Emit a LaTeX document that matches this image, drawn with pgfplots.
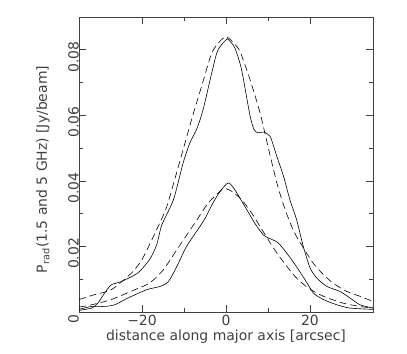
\documentclass[border=0pt]{standalone}
\usepackage{pgfplots}
\pgfplotsset{compat=1.18}
\usepackage{fontspec}
\setmainfont{DejaVu Sans}
\begin{document}
\fontsize{14}{16}\selectfont
\begin{tikzpicture}
\begin{axis}[
  scale only axis, width=294bp, height=295bp,
  xmin=-35, xmax=35, ymin=0, ymax=0.09,
  scaled y ticks=false, scaled x ticks=false,
  xtick={-20,0,20}, xticklabels={−20,0,20},
  ytick={0,0.02,0.04,0.06,0.08}, yticklabels={0,0.02,0.04,0.06,0.08},
  minor x tick num=1, minor y tick num=1,
  tick align=inside,
  major tick length=7bp, minor tick length=4bp,
  axis line style={black!75, line width=0.6pt},
  every tick/.style={black!75, line width=0.6pt},
  tick label style={font=\fontsize{14}{16}\selectfont, text=black!75},
  label style={font=\fontsize{14}{16}\selectfont, text=black!75},
  yticklabel style={rotate=90, anchor=south, inner sep=0pt, xshift=-7bp},
  xticklabel style={anchor=north, inner sep=0pt, yshift=-3bp},
  xlabel={distance along major axis [arcsec]},
  xlabel style={at={(axis description cs:0.5,0)}, anchor=north, inner sep=0pt, yshift=-18bp},
  ylabel={P\textsubscript{rad}(1.5 and 5 GHz) [Jy/beam]},
  ylabel style={at={(axis description cs:-0.122,0.483)}, anchor=center, inner sep=0pt},
  clip=true,
]
% upper solid (1.5 GHz profile)
\addplot[black, line width=0.6pt, smooth, tension=0.4] coordinates {
(-35,0.0005) (-32,0.0012) (-30.5,0.0027) (-28.9,0.0058) (-27.3,0.0083) (-24.9,0.0093)
(-21,0.0119) (-18.2,0.016) (-16.5,0.0205) (-15.3,0.0265) (-12.5,0.0343) (-10.2,0.0455)
(-8.6,0.0516) (-7,0.0557) (-5.4,0.0620) (-2.2,0.0790) (0,0.0830) (0.5,0.0832)
(2.1,0.0806) (3.7,0.0740) (5.7,0.0600) (6.7,0.0556) (7.6,0.0547) (8.9,0.0549)
(10.5,0.0536) (12.1,0.0475) (13.7,0.0414) (15.2,0.0343) (16.8,0.0282) (18.4,0.0200)
(20,0.0135) (21.6,0.0104) (24,0.0078) (27.1,0.0063) (29.5,0.0043) (31.9,0.0022) (35,0.0012)
};
% upper dashed (fit)
\addplot[black, line width=0.6pt, dash pattern=on 7bp off 4bp, smooth, tension=0.4] coordinates {
(-35,0.0038) (-31.3,0.0053) (-27.3,0.0068) (-22.5,0.0119) (-20,0.0160) (-16.9,0.0241)
(-14.1,0.0322) (-10.2,0.0496) (-8.2,0.0587) (-5.8,0.0689) (-3.4,0.0790) (-1.5,0.0825) (0,0.0840)
(1.5,0.0825) (3.3,0.0796) (5.7,0.0710) (8.1,0.0608) (10,0.0505) (12.1,0.0394) (14,0.0315) (16,0.0250)
(17.5,0.0215) (20.7,0.0150) (23.2,0.0114) (25.5,0.0088) (28.7,0.0063) (31.9,0.0048) (35,0.0032)
};
% lower solid (5 GHz profile)
\addplot[black, line width=0.6pt, smooth, tension=0.4] coordinates {
(-35,0.0008) (-32,0.0017) (-28.9,0.0017) (-26.5,0.0022) (-23.3,0.0043) (-18.9,0.0068)
(-15.7,0.0078) (-13.7,0.0093) (-11.7,0.0139) (-9.4,0.0200) (-6.2,0.0261) (-5,0.0285)
(-3,0.0335) (-1.4,0.0368) (0.55,0.0394) (2.1,0.0373) (4.5,0.0322) (6.9,0.0270)
(8.9,0.0235) (10.1,0.0226) (12.5,0.0210) (15.6,0.0160) (18.8,0.0099) (20.8,0.0058)
(23.2,0.0038) (26.4,0.0022) (29.5,0.0012) (35,0.0008)
};
% lower dashed (fit)
\addplot[black, line width=0.6pt, dash pattern=on 7bp off 4bp, smooth, tension=0.4] coordinates {
(-35,0.0015) (-32,0.0022) (-27.3,0.0038) (-21.7,0.0068) (-18.1,0.0089) (-14.9,0.0129)
(-11.7,0.0190) (-7.4,0.0272) (-4.2,0.0333) (-1,0.0373) (0,0.0376) (1.4,0.0368)
(3.7,0.0343) (6.1,0.0302) (8.1,0.0261) (12.1,0.0180) (16.4,0.0109) (19.6,0.0073)
(23.2,0.0048) (27.9,0.0027) (31.9,0.0017) (35,0.0012)
};
\end{axis}
\pgfresetboundingbox
\path[use as bounding box] (-79bp,-42bp) rectangle (328bp,312bp);
\end{tikzpicture}
\end{document}
